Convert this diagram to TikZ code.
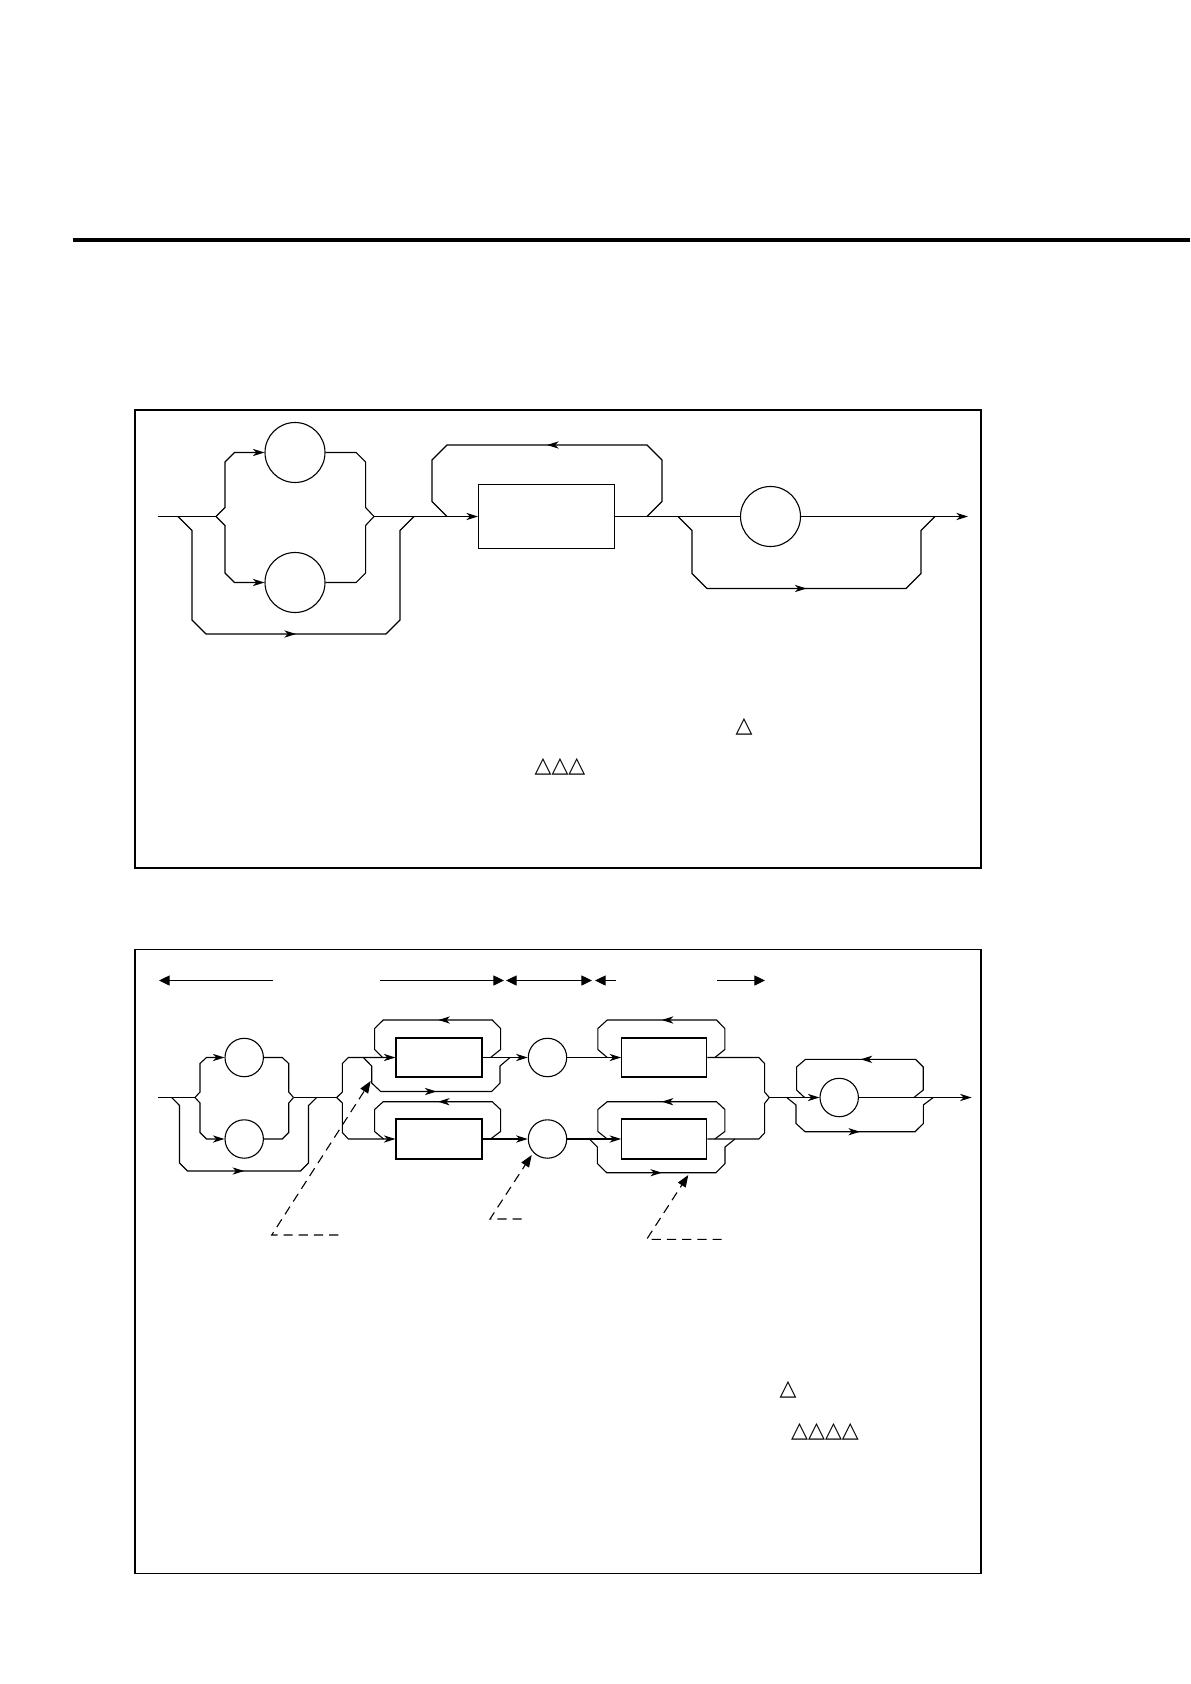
\documentclass[tikz,border=0pt]{standalone}
\usepackage{fontspec}
\newfontfamily\trifont{DejaVu Sans}
\usepackage{tikz}
\usetikzlibrary{positioning,arrows.meta,calc,decorations.markings}

\begin{document}
\begin{tikzpicture}[
  x=0.5pt, y=-0.5pt,
  trk/.style={line width=0.55pt},
  arr/.style={trk, -{Stealth[length=5.8pt,width=3.6pt,inset=1.7pt]}},
  flow/.style={trk, postaction={decorate},
    decoration={markings, mark=at position 0.5 with {\arrow{Stealth[length=5.8pt,width=3.6pt,inset=1.7pt]}}}},
  panel/.style={line width=0.8pt},
  rnd/.style={draw, circle, trk, inner sep=0pt, minimum size=#1},
  blk/.style 2 args={draw, rectangle, trk, inner sep=0pt, minimum width=#1, minimum height=#2},
  dimr/.style={trk, -{Triangle[length=5.3pt,width=5pt]}},
  dimb/.style={trk, {Triangle[length=5.3pt,width=5pt]}-{Triangle[length=5.3pt,width=5pt]}},
  ptr/.style={trk, dash pattern=on 4.6pt off 3pt, -{Triangle[length=6pt,width=4.5pt]}},
  tri/.style={font=\trifont\fontsize{11}{13}\selectfont, inner sep=0pt}
]
\useasboundingbox (0,0) rectangle (1190,1684);

% --- filet du haut
\draw[line width=2pt] (72.7,240) -- (1190,240);

% ================= diagramme 1
\draw[panel] (135,410) rectangle (981,868);

\node[rnd=30pt] (o1) at (295,452.5) {};
\node[rnd=30pt] (o2) at (295,582.5) {};
\node[blk={68pt}{32pt}] (k1) at (546.5,516.5) {};
\node[rnd=30pt] (o3) at (770.5,516.5) {};

\coordinate (in1)  at (157.5,516.5);
\coordinate (sp1)  at (216,516.5);
\coordinate (jn1)  at (374,516.5);
\coordinate (out1) at (968,516.5);
\coordinate (by1)  at (178,516.5);
\coordinate (lp1)  at (647,516.5);
\coordinate (by2)  at (678,516.5);

% --- choix entre o1 et o2
\draw[trk] (in1) -- (sp1);
\draw[arr] (sp1) -- ++(9,-9) -- ++(0,-45.5) -- ++(9.5,-9.5) -- (o1);
\draw[arr] (sp1) -- ++(9,9) -- ++(0,47.5) -- ++(9.5,9.5) -- (o2);
\draw[trk] (o1.east) -- ++(30.5,0) -- ++(9.5,9.5) -- ++(0,45.5) -- (jn1);
\draw[trk] (o2.east) -- ++(30.5,0) -- ++(9.5,-9.5) -- ++(0,-47.5) -- (jn1);

% --- contournement du choix
\draw[flow] (by1) -- ++(14,14) -- ++(0,89.5) -- ++(14,14) -- ++(180,0)
            -- ++(14,-14) -- ++(0,-89.5) -- ++(14,-14);

% --- boite k1 et sa boucle
\draw[arr] (jn1) -- (k1);
\draw[flow] (lp1) -- ++(15,-15) -- ++(0,-41.5) -- ++(-15,-15) -- ++(-200,0)
            -- ++(-15,15) -- ++(0,41.5) -- ++(15,15);

% --- o3 optionnel
\draw[trk] (k1) -- (o3);
\draw[arr] (o3) -- (out1);
\draw[flow] (by2) -- ++(14,14) -- ++(0,43) -- ++(15,15) -- ++(199,0)
            -- ++(15,-15) -- ++(0,-43) -- ++(14,-14);

\node[tri] (t1) at (744,726.5) {△};
\node[tri] (t2) at (560,766.5) {△△△};

% ================= diagramme 2
\draw[panel] (135,949.5) rectangle (981,1573.5);

% --- fleches de cote
\coordinate (d1a) at (159,980.5);   \coordinate (d1b) at (273,980.5);
\coordinate (d2a) at (380,980.5);   \coordinate (d2b) at (504,980.5);
\coordinate (d3a) at (506,980.5);   \coordinate (d3b) at (592,980.5);
\coordinate (d4a) at (595,980.5);   \coordinate (d4b) at (616,980.5);
\coordinate (d5a) at (717,980.5);   \coordinate (d5b) at (765,980.5);
\draw[dimr] (d1b) -- (d1a);
\draw[dimr] (d2a) -- (d2b);
\draw[dimb] (d3a) -- (d3b);
\draw[dimr] (d4b) -- (d4a);
\draw[dimr] (d5a) -- (d5b);

\node[rnd=19.2pt] (p1) at (244.2,1057.5) {};
\node[rnd=19.2pt] (p2) at (244.2,1139) {};
\node[blk={43pt}{19.5pt}] (q1) at (439,1057.5) {};
\node[blk={43pt}{20pt}]   (q2) at (439,1139) {};
\node[rnd=19.2pt] (p3) at (547.5,1057.5) {};
\node[rnd=19.2pt] (p4) at (547.5,1139) {};
\node[blk={42.5pt}{19.5pt}] (q3) at (664.2,1057.5) {};
\node[blk={42.5pt}{20pt}]   (q4) at (664.2,1139) {};
\node[rnd=19.2pt] (p5) at (839.2,1097.5) {};

\coordinate (in2)  at (158.3,1097.5);
\coordinate (sp2)  at (195,1097.5);
\coordinate (jn2)  at (293.5,1097.5);
\coordinate (sp3)  at (336.7,1097.5);
\coordinate (sp4)  at (589.3,1139);
\coordinate (jn3)  at (769.3,1097.5);
\coordinate (out2) at (971.7,1097.5);
\coordinate (by3)  at (171.7,1097.5);
\coordinate (by4)  at (363.3,1057.5);
\coordinate (by5)  at (786.7,1097.5);

% --- choix entre p1 et p2
\draw[trk] (in2) -- (sp2);
\draw[arr] (sp2) -- ++(5,-5.5) -- ++(0,-28.5) -- ++(6.5,-6) -- (p1);
\draw[arr] (sp2) -- ++(5,5.5) -- ++(0,29.5) -- ++(6.5,6.5) -- (p2);
\draw[trk] (p1.east) -- ++(18.3,0) -- ++(6.5,6) -- ++(0,28.5) -- (jn2);
\draw[trk] (p2.east) -- ++(18.3,0) -- ++(6.5,-6.5) -- ++(0,-29.5) -- (jn2);
\draw[flow] (by3) -- ++(7.8,8) -- ++(0,57.5) -- ++(8,8) -- ++(113,0)
            -- ++(8,-8) -- ++(0,-57.5) -- ++(8.2,-8);
\draw[trk] (jn2) -- (sp3);

% --- deux voies paralleles
\draw[arr] (sp3) -- ++(5.6,-5.5) -- ++(0,-28.5) -- ++(6,-6) -- (q1);
\draw[arr] (sp3) -- ++(5.6,5.5) -- ++(0,29.5) -- ++(6,6.5) -- (q2);

% voie haute
\draw[flow] (by4) -- ++(8.4,8.5) -- ++(0,17) -- ++(9,8.5) -- ++(111,0)
            -- ++(8.3,-8.5) -- ++(0,-17) -- ++(10,-8.5);
\draw[flow] (q1.east) ++(8,0) -- ++(10,-8) -- ++(0,-21) -- ++(-8.3,-8.5) -- ++(-109,0)
            -- ++(-8.7,8.5) -- ++(0,21) -- ++(8,8);
\draw[arr] (q1) -- (p3);
\draw[arr] (p3) -- (q3);
\draw[flow] (q3.east) ++(7.6,0) -- ++(10,-8) -- ++(0,-21) -- ++(-8.3,-8.5) -- ++(-109.3,0)
            -- ++(-9.4,8.5) -- ++(0,21) -- ++(9.4,8);
\draw[trk] (q3.east) -- ++(51.6,0) -- ++(5.7,6) -- ++(0,28.5) -- (jn3);

% voie basse
\draw[flow] (q2.east) ++(8,0) -- ++(10,-7.5) -- ++(0,-22) -- ++(-8.3,-7.8) -- ++(-109,0)
            -- ++(-8.7,7.8) -- ++(0,22) -- ++(9,7.5);
\draw[arr] (q2) -- (p4);
\draw[trk] (p4) -- (sp4);
\draw[arr] (sp4) -- (q4);
\draw[flow] (sp4) -- ++(8,8) -- ++(0,16.5) -- ++(9.4,9.2) -- ++(109.3,0)
            -- ++(9,-9.2) -- ++(0,-16.5) -- ++(10,-8);
\draw[flow] (q4.east) ++(7.6,0) -- ++(10,-7.5) -- ++(0,-22) -- ++(-8.3,-7.8) -- ++(-109.3,0)
            -- ++(-9.4,7.8) -- ++(0,22) -- ++(9.4,7.5);
\draw[trk] (q4.east) -- ++(51.6,0) -- ++(5.7,-6) -- ++(0,-29.5) -- (jn3);

% --- p5 repete ou saute
\draw[arr] (jn3) -- (p5);
\draw[flow] (p5.east) ++(54.9,0) -- ++(9.4,-7.5) -- ++(0,-23) -- ++(-7.7,-7.7) -- ++(-110,0)
            -- ++(-9,7.7) -- ++(0,23) -- ++(8,7.5);
\draw[flow] (by5) -- ++(9.3,7.5) -- ++(0,18.5) -- ++(9,8.2) -- ++(110,0)
            -- ++(8.3,-8.2) -- ++(0,-18.5) -- ++(10,-7.5);
\draw[arr] (p5) -- (out2);

% --- renvois en tirets
\coordinate (n1a) at (338.3,1235);   \coordinate (n1b) at (271.7,1235);   \coordinate (h1) at (370.7,1081);
\coordinate (n2a) at (521.7,1219);   \coordinate (n2b) at (490,1219);     \coordinate (h2) at (531.7,1155);
\coordinate (n3a) at (721.7,1239.3); \coordinate (n3b) at (646.7,1239.3); \coordinate (h3) at (688.3,1175);
\draw[ptr] (n1a) -- (n1b) -- (h1);
\draw[ptr] (n2a) -- (n2b) -- (h2);
\draw[ptr] (n3a) -- (n3b) -- (h3);

\node[tri] (t3) at (788,1390) {△};
\node[tri] (t4) at (825,1431.5) {△△△△};

\end{tikzpicture}
\end{document}
